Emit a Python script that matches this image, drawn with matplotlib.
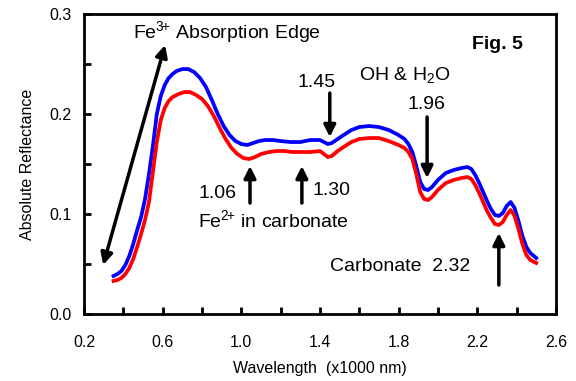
import numpy as np
import matplotlib.pyplot as plt

plt.rcParams['font.family'] = ['Liberation Sans', 'DejaVu Sans']
plt.rcParams['mathtext.fontset'] = 'custom'
plt.rcParams['mathtext.rm'] = 'Liberation Sans'
plt.rcParams['mathtext.it'] = 'Liberation Sans:italic'
plt.rcParams['mathtext.bf'] = 'Liberation Sans:bold'

# wavelength (x1000 nm) and reflectance
wl_blue = [0.35, 0.37, 0.39, 0.41, 0.43, 0.45, 0.47, 0.49, 0.51, 0.53, 0.55, 0.57,
           0.59, 0.61, 0.63, 0.65, 0.67, 0.70, 0.73, 0.76, 0.79, 0.82, 0.85, 0.88,
           0.91, 0.94, 0.97, 1.00, 1.03, 1.06, 1.09, 1.12, 1.16, 1.20, 1.25, 1.30,
           1.35, 1.40, 1.42, 1.44, 1.46, 1.49, 1.52, 1.56, 1.60, 1.65, 1.70, 1.75,
           1.80, 1.83, 1.85, 1.87, 1.89, 1.91, 1.93, 1.95, 1.97, 2.00, 2.04, 2.08,
           2.12, 2.15, 2.17, 2.19, 2.21, 2.23, 2.25, 2.27, 2.29, 2.31, 2.33, 2.35,
           2.37, 2.39, 2.41, 2.43, 2.45, 2.47, 2.50]
refl_blue = [0.038, 0.040, 0.043, 0.049, 0.058, 0.070, 0.084, 0.097, 0.115, 0.140, 0.168, 0.200,
             0.218, 0.229, 0.236, 0.240, 0.243, 0.245, 0.245, 0.242, 0.236, 0.227, 0.214, 0.200,
             0.188, 0.179, 0.173, 0.170, 0.169, 0.171, 0.173, 0.174, 0.174, 0.173, 0.172, 0.172,
             0.174, 0.174, 0.172, 0.170, 0.171, 0.175, 0.179, 0.184, 0.187, 0.188, 0.187, 0.184,
             0.179, 0.175, 0.170, 0.162, 0.148, 0.132, 0.125, 0.124, 0.127, 0.134, 0.141, 0.144,
             0.146, 0.147, 0.145, 0.139, 0.131, 0.122, 0.113, 0.105, 0.099, 0.098, 0.101, 0.108,
             0.112, 0.106, 0.093, 0.078, 0.067, 0.061, 0.056]

wl_red = [0.35, 0.37, 0.39, 0.41, 0.43, 0.45, 0.47, 0.49, 0.51, 0.53, 0.55, 0.57,
          0.59, 0.61, 0.63, 0.65, 0.68, 0.71, 0.74, 0.77, 0.80, 0.83, 0.86, 0.89,
          0.92, 0.95, 0.98, 1.01, 1.04, 1.07, 1.10, 1.14, 1.18, 1.22, 1.26, 1.30,
          1.35, 1.40, 1.42, 1.44, 1.46, 1.49, 1.52, 1.56, 1.60, 1.65, 1.70, 1.75,
          1.80, 1.83, 1.85, 1.87, 1.89, 1.91, 1.93, 1.95, 1.97, 2.00, 2.04, 2.08,
          2.12, 2.15, 2.17, 2.19, 2.21, 2.23, 2.25, 2.27, 2.29, 2.31, 2.33, 2.35,
          2.37, 2.39, 2.41, 2.43, 2.45, 2.47, 2.50]
refl_red = [0.033, 0.034, 0.036, 0.040, 0.046, 0.055, 0.067, 0.080, 0.094, 0.112, 0.142, 0.172,
            0.194, 0.206, 0.213, 0.217, 0.220, 0.222, 0.222, 0.219, 0.215, 0.208, 0.198, 0.186,
            0.175, 0.166, 0.160, 0.156, 0.155, 0.157, 0.160, 0.162, 0.163, 0.163, 0.162, 0.162,
            0.162, 0.163, 0.160, 0.157, 0.158, 0.163, 0.167, 0.172, 0.175, 0.176, 0.176, 0.173,
            0.169, 0.166, 0.162, 0.155, 0.140, 0.122, 0.115, 0.114, 0.117, 0.124, 0.131, 0.134,
            0.136, 0.137, 0.135, 0.129, 0.121, 0.112, 0.103, 0.096, 0.090, 0.089, 0.092, 0.099,
            0.104, 0.098, 0.085, 0.070, 0.059, 0.054, 0.051]

fig = plt.figure(figsize=(5.76, 3.81), dpi=100)
ax = fig.add_axes([0.146, 0.176, 0.819, 0.787])

ax.plot(wl_blue, refl_blue, color='blue', lw=2.7, solid_joinstyle='round')
ax.plot(wl_red, refl_red, color='red', lw=2.7, solid_joinstyle='round')

ax.set_xlim(0.2, 2.6)
ax.set_ylim(0.0, 0.3)
ax.set_xticks(np.arange(0.2, 2.61, 0.4))
ax.set_xticks(np.arange(0.4, 2.5, 0.4), minor=True)
ax.set_yticks([0.0, 0.1, 0.2, 0.3])
ax.set_yticks([0.05, 0.15, 0.25], minor=True)
ax.xaxis.set_major_formatter(plt.FormatStrFormatter('%.1f'))
ax.yaxis.set_major_formatter(plt.FormatStrFormatter('%.1f'))
ax.tick_params(which='both', direction='in', length=5, width=2, labelsize=11.5)
ax.tick_params(axis='x', pad=15)
ax.tick_params(axis='y', pad=9)
for s in ax.spines.values():
    s.set_linewidth(2)

ax.set_xlabel('Wavelength  (x1000 nm)', fontsize=11.5, labelpad=8)
ax.set_ylabel('Absolute Reflectance', fontsize=11.5, labelpad=10)

arr = dict(arrowstyle='-|>,head_length=0.7,head_width=0.35', color='black', lw=2.5, shrinkA=0, shrinkB=0)
dbl = dict(arrowstyle='<|-|>,head_length=0.7,head_width=0.35', color='black', lw=2.5, shrinkA=0, shrinkB=0)

ax.annotate('', xy=(0.612, 0.269), xytext=(0.297, 0.049), arrowprops=dbl)
ax.annotate('', xy=(1.45, 0.177), xytext=(1.45, 0.221), arrowprops=arr)
ax.annotate('', xy=(1.945, 0.136), xytext=(1.945, 0.197), arrowprops=arr)
ax.annotate('', xy=(1.044, 0.148), xytext=(1.044, 0.111), arrowprops=arr)
ax.annotate('', xy=(1.308, 0.148), xytext=(1.308, 0.111), arrowprops=arr)
ax.annotate('', xy=(2.31, 0.081), xytext=(2.31, 0.029), arrowprops=arr)

fs = 14
ax.text(0.45, 0.282, r'Fe$^{\mathregular{3}\!\mathregular{+}}$ Absorption Edge', fontsize=fs, va='center')
ax.text(2.305, 0.27, 'Fig. 5', fontsize=14, fontweight='bold', ha='center', va='center')
ax.text(1.832, 0.239, r'OH & H$_{\mathregular{2}}$O', fontsize=fs, ha='center', va='center')
ax.text(1.385, 0.232, '1.45', fontsize=fs, ha='center', va='center')
ax.text(1.944, 0.210, '1.96', fontsize=fs, ha='center', va='center')
ax.text(0.881, 0.121, '1.06', fontsize=fs, ha='center', va='center')
ax.text(1.36, 0.124, '1.30', fontsize=fs, va='center')
ax.text(0.78, 0.094, r'Fe$^{\mathregular{2}\!\mathregular{+}}$ in carbonate', fontsize=fs, va='center')
ax.text(1.45, 0.047, 'Carbonate  2.32', fontsize=fs, va='center')

fig.savefig('out.png', dpi=100)
